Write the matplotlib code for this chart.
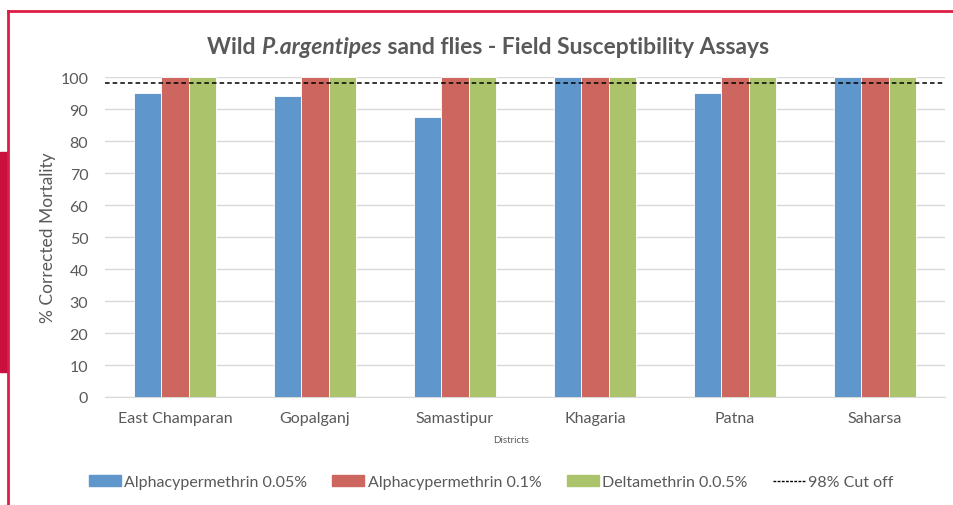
import matplotlib.pyplot as plt
import numpy as np
from matplotlib.patches import Rectangle
from matplotlib.lines import Line2D

districts = ["East Champaran", "Gopalganj", "Samastipur", "Khagaria", "Patna", "Saharsa"]
series_names = ["Alphacypermethrin 0.05%", "Alphacypermethrin 0.1%", "Deltamethrin 0.0.5%"]
alpha_005 = [95, 94, 87.5, 100, 95, 100]
alpha_01 = [100, 100, 100, 100, 100, 100]
delta_005 = [100, 100, 100, 100, 100, 100]
cutoff = 98
colors = ["#5F96CB", "#CD665E", "#ABC46B"]
yticks = list(range(0, 101, 10))
title_parts = ["Wild ", "P.argentipes", " sand flies - Field Susceptibility Assays"]

plt.rcParams['font.family'] = ['Lato', 'DejaVu Sans']
grey = "#595959"

fig = plt.figure(figsize=(9.54, 5.06), dpi=100)
ax = fig.add_axes([105 / 954, 1 - 398 / 506, 840 / 954, 320 / 506])

x = np.arange(len(districts))
w = 0.193
for i, (vals, c) in enumerate(zip([alpha_005, alpha_01, delta_005], colors)):
    ax.bar(x + (i - 1) * w, vals, width=w, color=c, edgecolor="white",
           linewidth=0.6, label=series_names[i], zorder=3)
ax.axhline(cutoff, color="black", linestyle=(0, (3, 2)), linewidth=1.1, zorder=4)

ax.set_xlim(-0.5, len(districts) - 0.5)
ax.set_ylim(0, 100)
ax.set_yticks(yticks)
ax.set_xticks(x)
ax.set_xticklabels(districts, fontsize=11.5, color=grey)
ax.tick_params(axis="y", labelsize=11.5, colors=grey, length=0, pad=12)
ax.tick_params(axis="x", length=0, pad=10)
ax.grid(axis="y", color="#D9D9D9", linewidth=1, zorder=0)
for s in ["top", "right", "left"]:
    ax.spines[s].set_visible(False)
ax.spines["bottom"].set_color("#D9D9D9")

# title in three pieces so the species name can be italic
renderer = fig.canvas.get_renderer()
styles = ["normal", "italic", "normal"]
pieces = []
for txt, st in zip(title_parts, styles):
    t = fig.text(0, 1 - 47 / 506, txt, ha="left", va="center", fontsize=16.5,
                 fontweight="bold", fontstyle=st, color=grey)
    pieces.append(t)
widths = [p.get_window_extent(renderer).width for p in pieces]
xpos = 488 - sum(widths) / 2
for p, wd in zip(pieces, widths):
    p.set_x(xpos / 954)
    xpos += wd

fig.text(48 / 954, 1 - 238 / 506, "% Corrected Mortality", rotation=90,
         ha="center", va="center", fontsize=12.5, color=grey)
fig.text(511 / 954, 1 - 441 / 506, "Districts", ha="center", va="center",
         fontsize=7, color=grey)

handles = [Rectangle((0, 0), 1, 1, color=c) for c in colors]
handles.append(Line2D([0], [0], color="black", linestyle=(0, (2, 1)), linewidth=1))
labels = series_names + ["98% Cut off"]
fig.legend(handles, labels, loc="center", bbox_to_anchor=(491 / 954, 1 - 483 / 506),
           ncol=4, frameon=False, fontsize=11.5, labelcolor=grey,
           handlelength=2.0, handleheight=0.7, handletextpad=0.2, columnspacing=1.6)

# page decorations
fig.add_artist(Line2D([8 / 954, 8 / 954], [0, 1 - 12 / 506], transform=fig.transFigure,
                      color="#DC1E44", linewidth=2))
fig.add_artist(Line2D([8 / 954, 1], [1 - 12 / 506, 1 - 12 / 506], transform=fig.transFigure,
                      color="#DC1E44", linewidth=2))
fig.add_artist(Rectangle((0, 1 - 373 / 506), 7 / 954, 220 / 506, transform=fig.transFigure,
                         color="#C8113E"))

fig.savefig("out.png", dpi=100)
